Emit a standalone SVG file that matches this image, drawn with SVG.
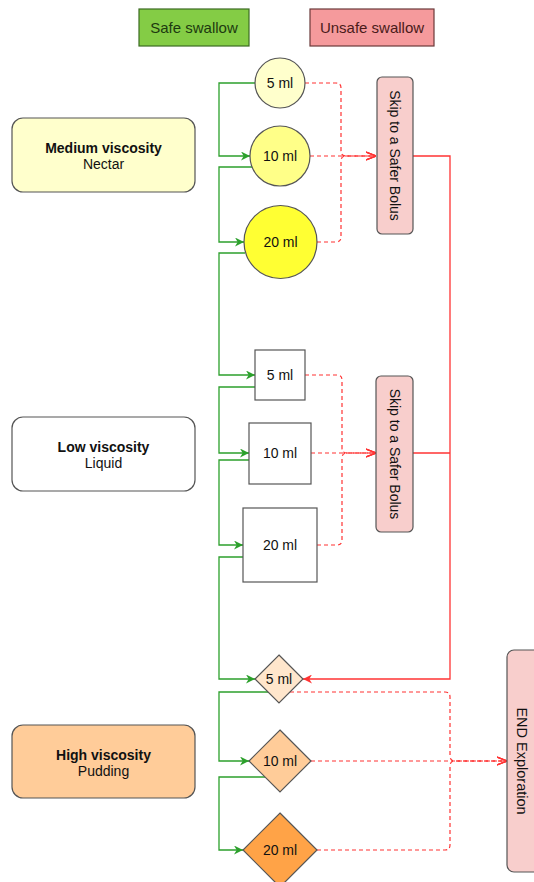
<svg xmlns="http://www.w3.org/2000/svg" width="534" height="882" viewBox="0 0 534 882">
<style>
text{font-family:"Liberation Sans",Arial,sans-serif;fill:#111;}
.lbl{font-size:14px;text-anchor:middle;}
.vt{font-size:14px;text-anchor:middle;}
.b{font-weight:bold;}
.node{stroke:#555;stroke-width:1.2;}
.g{fill:none;stroke:#2ca02c;stroke-width:1.3;}
.r{fill:none;stroke:#ff3333;stroke-width:1.3;}
.d{fill:none;stroke:#ff3333;stroke-width:1.2;stroke-dasharray:4 3;}
</style>
<defs>
<marker id="ga" viewBox="0 0 10 10" refX="10" refY="5" markerWidth="9" markerHeight="9" markerUnits="userSpaceOnUse" orient="auto">
<path d="M0,0 L10,5 L0,10 L3,5 Z" fill="#2ca02c"/>
</marker>
<marker id="ra" viewBox="0 0 10 10" refX="10" refY="5" markerWidth="9" markerHeight="9" markerUnits="userSpaceOnUse" orient="auto">
<path d="M0,0 L10,5 L0,10 L3,5 Z" fill="#ff3333"/>
</marker>
<marker id="ro" viewBox="0 0 10 10" refX="10" refY="5" markerWidth="10" markerHeight="10" markerUnits="userSpaceOnUse" orient="auto">
<path d="M0,1 L10,5 L0,9" fill="none" stroke="#ff3333" stroke-width="1.3"/>
</marker>
</defs>

<g id="legend-safe">
<rect x="139" y="9" width="110" height="37" fill="#84cc45" stroke="#3b6b22" stroke-width="1.2"/>
<text class="vt" x="194" y="33" style="fill:#1d3a10;font-size:15px">Safe swallow</text>
</g>
<g id="legend-unsafe">
<rect x="310" y="9" width="124" height="37" fill="#f59a9c" stroke="#6b3a3a" stroke-width="1.2"/>
<text class="vt" x="372" y="33" style="fill:#4a1a1a;font-size:15px">Unsafe swallow</text>
</g>

<g id="connectors">
<path class="g" d="M255,83 H219 V156 H250" marker-end="url(#ga)"/>
<path class="g" d="M252,167 H219 V242 H244" marker-end="url(#ga)"/>
<path class="g" d="M245,253 H219 V375 H255" marker-end="url(#ga)"/>
<path class="g" d="M255,387 H219 V453 H249" marker-end="url(#ga)"/>
<path class="g" d="M249,460 H219 V545 H243" marker-end="url(#ga)"/>
<path class="g" d="M243,557 H219 V679 H255" marker-end="url(#ga)"/>
<path class="g" d="M268,692 H219 V761 H249" marker-end="url(#ga)"/>
<path class="g" d="M265,777 H219 V850 H243" marker-end="url(#ga)"/>

<path class="r" d="M413,156 H450 V679 H303" marker-end="url(#ra)"/>
<path class="r" d="M413,453 H450"/>

<path class="d" d="M305,83 H336 Q341,83 341,88 V151 Q341,156 346,156 H376" marker-end="url(#ro)"/>
<path class="d" d="M310,156 H376" marker-end="url(#ro)"/>
<path class="d" d="M317,242 H336 Q341,242 341,237 V161 Q341,156 346,156 H376" marker-end="url(#ro)"/>
<path class="d" d="M305,375 H337 Q342,375 342,380 V448 Q342,453 347,453 H376" marker-end="url(#ro)"/>
<path class="d" d="M311,453 H376" marker-end="url(#ro)"/>
<path class="d" d="M317,545 H337 Q342,545 342,540 V458 Q342,453 347,453 H376" marker-end="url(#ro)"/>
<path class="d" d="M290,692 H445 Q450,692 450,697 V756 Q450,761 455,761 H507" marker-end="url(#ro)"/>
<path class="d" d="M311,761 H507" marker-end="url(#ro)"/>
<path class="d" d="M317,850 H445 Q450,850 450,845 V766 Q450,761 455,761 H507" marker-end="url(#ro)"/>
</g>

<g id="medium-viscosity">
<rect class="node" x="12" y="118" width="183" height="74" rx="11" fill="#ffffcc"/>
<text class="vt b" x="103.5" y="153">Medium viscosity</text>
<text class="vt" x="103.5" y="169">Nectar</text>
</g>
<g id="low-viscosity">
<rect class="node" x="12" y="417" width="183" height="74" rx="11" fill="#ffffff"/>
<text class="vt b" x="103.5" y="452">Low viscosity</text>
<text class="vt" x="103.5" y="468">Liquid</text>
</g>
<g id="high-viscosity">
<rect class="node" x="12" y="725" width="183" height="73" rx="11" fill="#ffcc99"/>
<text class="vt b" x="103.5" y="760">High viscosity</text>
<text class="vt" x="103.5" y="776">Pudding</text>
</g>

<g id="m5">
<circle class="node" cx="280" cy="83" r="25" fill="#ffffcc"/>
<text class="lbl" x="280" y="88">5 ml</text>
</g>
<g id="m10">
<circle class="node" cx="280" cy="156" r="30" fill="#ffff88"/>
<text class="lbl" x="280" y="161">10 ml</text>
</g>
<g id="m20">
<circle class="node" cx="280.5" cy="242" r="36.5" fill="#ffff33"/>
<text class="lbl" x="280.5" y="247">20 ml</text>
</g>

<g id="l5">
<rect class="node" x="255" y="350" width="50" height="50" fill="#ffffff"/>
<text class="lbl" x="280" y="380">5 ml</text>
</g>
<g id="l10">
<rect class="node" x="249" y="423" width="62" height="61" fill="#ffffff"/>
<text class="lbl" x="280" y="458">10 ml</text>
</g>
<g id="l20">
<rect class="node" x="243" y="508" width="74" height="74" fill="#ffffff"/>
<text class="lbl" x="280" y="550">20 ml</text>
</g>

<g id="h5">
<polygon class="node" points="279,655 303,679 279,703 255,679" fill="#ffe6cc"/>
<text class="lbl" x="279" y="684">5 ml</text>
</g>
<g id="h10">
<polygon class="node" points="280,730 311,761 280,792 249,761" fill="#ffcc99"/>
<text class="lbl" x="280" y="766">10 ml</text>
</g>
<g id="h20">
<polygon class="node" points="280,813 317,850 280,887 243,850" fill="#ffa347"/>
<text class="lbl" x="280" y="855">20 ml</text>
</g>

<g id="skip1">
<rect class="node" x="377" y="77" width="36" height="157" rx="5" fill="#f8cecc"/>
<text class="vt" x="395" y="155.5" dominant-baseline="central" transform="rotate(90 395 155.5)">Skip to a Safer Bolus</text>
</g>
<g id="skip2">
<rect class="node" x="376" y="376" width="37" height="156" rx="5" fill="#f8cecc"/>
<text class="vt" x="394.5" y="454" dominant-baseline="central" transform="rotate(90 394.5 454)">Skip to a Safer Bolus</text>
</g>
<g id="end">
<rect class="node" x="507" y="650" width="40" height="222" rx="7" fill="#f8cecc"/>
<text x="522" y="761" dominant-baseline="central" text-anchor="middle" font-size="14.5" transform="rotate(90 522 761)">END Exploration</text>
</g>
</svg>
